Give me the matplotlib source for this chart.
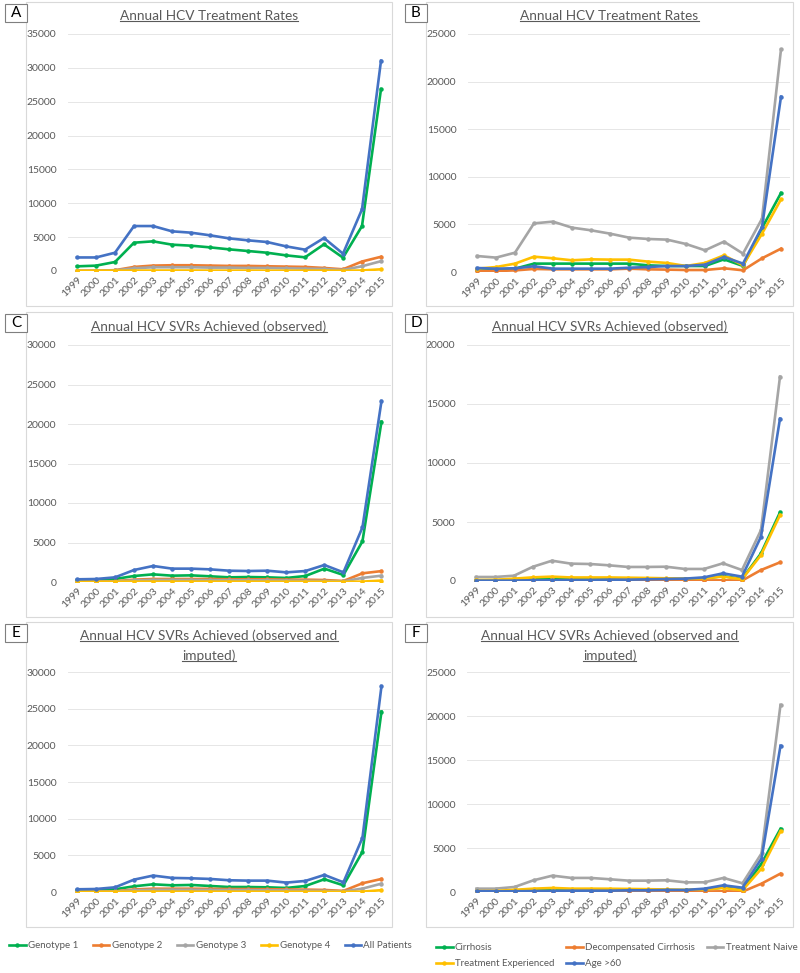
import matplotlib
matplotlib.use("Agg")
import matplotlib.pyplot as plt
from matplotlib.lines import Line2D
from matplotlib.patches import Rectangle
import numpy as np

plt.rcParams['font.family'] = ['Lato', 'DejaVu Sans']

# Years on the x axis
years = list(range(1999, 2016))
year_labels = [str(y) for y in years]

# Panel A - treatment rates by genotype
a_geno1 = [690, 790, 1330, 4180, 4380, 3890, 3740, 3490, 3200, 2950, 2700, 2310, 2020, 3940, 1970, 6640, 26870]
a_geno2 = [40, 50, 120, 600, 800, 850, 850, 800, 750, 750, 700, 650, 600, 450, 250, 1400, 2100]
a_geno3 = [20, 30, 100, 400, 550, 550, 550, 500, 500, 450, 450, 400, 350, 300, 150, 700, 1450]
a_geno4 = [30, 30, 50, 60, 70, 70, 70, 60, 60, 60, 50, 50, 50, 60, 30, 80, 250]
a_all = [2000, 2000, 2700, 6640, 6640, 5860, 5660, 5270, 4820, 4530, 4280, 3640, 3150, 4870, 2560, 9100, 31060]

# Panel B - treatment rates by patient group
b_cirr = [250, 250, 350, 880, 880, 880, 880, 880, 880, 700, 630, 630, 630, 1330, 630, 4620, 8300]
b_decomp = [100, 100, 170, 320, 280, 280, 280, 280, 350, 280, 250, 210, 210, 390, 180, 1440, 2450]
b_naive = [1680, 1510, 2030, 5110, 5290, 4660, 4380, 4030, 3610, 3470, 3400, 2940, 2280, 3190, 1930, 5600, 23390]
b_exper = [350, 520, 880, 1610, 1440, 1230, 1330, 1300, 1300, 1090, 950, 630, 950, 1750, 700, 4030, 7630]
b_age60 = [420, 350, 390, 600, 350, 350, 350, 350, 450, 520, 630, 630, 770, 1580, 880, 4730, 18420]

# Panel C - SVRs observed by genotype
c_geno1 = [210, 250, 380, 760, 970, 800, 840, 720, 590, 630, 590, 510, 760, 1690, 890, 5150, 20300]
c_geno2 = [50, 50, 100, 300, 380, 380, 380, 380, 340, 340, 340, 300, 300, 250, 130, 1100, 1380]
c_geno3 = [30, 30, 60, 200, 260, 260, 260, 230, 220, 220, 200, 180, 150, 130, 70, 520, 800]
c_geno4 = [20, 20, 30, 40, 40, 40, 40, 40, 40, 40, 30, 30, 30, 30, 20, 50, 180]
c_all = [340, 380, 590, 1520, 2030, 1690, 1690, 1600, 1430, 1390, 1430, 1220, 1390, 2150, 1220, 6920, 22910]

# Panel D - SVRs observed by patient group
d_cirr = [60, 60, 80, 180, 200, 200, 200, 200, 200, 180, 170, 170, 200, 420, 170, 2340, 5820]
d_decomp = [20, 20, 20, 40, 40, 40, 40, 40, 40, 40, 30, 30, 40, 60, 30, 930, 1580]
d_naive = [340, 340, 450, 1210, 1720, 1470, 1440, 1330, 1190, 1190, 1210, 1020, 1020, 1500, 930, 4320, 17320]
d_exper = [80, 100, 200, 310, 370, 300, 300, 300, 280, 260, 230, 200, 230, 370, 150, 2200, 5590]
d_age60 = [30, 30, 30, 60, 60, 80, 80, 110, 110, 140, 170, 200, 310, 650, 370, 3760, 13760]

# Panel E - SVRs observed and imputed by genotype
e_geno1 = [230, 230, 370, 780, 1050, 910, 960, 820, 680, 680, 640, 550, 820, 1740, 910, 5480, 24610]
e_geno2 = [50, 50, 100, 350, 450, 450, 450, 430, 400, 400, 380, 350, 330, 280, 150, 1190, 1780]
e_geno3 = [30, 30, 70, 230, 300, 300, 300, 270, 260, 250, 230, 210, 180, 150, 80, 460, 1140]
e_geno4 = [20, 20, 30, 40, 40, 40, 40, 40, 40, 40, 30, 30, 30, 30, 20, 50, 250]
e_all = [370, 410, 640, 1690, 2240, 1920, 1870, 1780, 1600, 1550, 1550, 1280, 1510, 2330, 1320, 7400, 28080]

# Panel F - SVRs observed and imputed by patient group
f_cirr = [80, 80, 100, 220, 250, 250, 250, 250, 240, 220, 200, 200, 250, 530, 230, 3230, 7190]
f_decomp = [30, 30, 30, 50, 50, 50, 50, 50, 50, 50, 40, 40, 50, 80, 40, 950, 2090]
f_naive = [380, 380, 570, 1330, 1860, 1600, 1600, 1450, 1290, 1290, 1330, 1100, 1100, 1600, 990, 4380, 21270]
f_exper = [100, 120, 250, 380, 460, 380, 380, 370, 350, 320, 290, 250, 290, 460, 200, 2660, 6920]
f_age60 = [80, 80, 80, 110, 110, 150, 150, 150, 190, 190, 230, 230, 380, 760, 490, 3800, 16630]

geno_names = ["Genotype 1", "Genotype 2", "Genotype 3", "Genotype 4", "All Patients"]
group_names = ["Cirrhosis", "Decompensated Cirrhosis", "Treatment Naive", "Treatment Experienced", "Age >60"]
colors = ["#00B050", "#ED7D31", "#A5A5A5", "#FFC000", "#4472C4"]

title_rates = ["Annual HCV Treatment Rates"]
title_obs = ["Annual HCV SVRs Achieved (observed)"]
title_imp = ["Annual HCV SVRs Achieved (observed and", "imputed)"]

W, H = 800, 973
TXT = "#595959"

panels = [
    # letter, frame (l, r, t, b), axes (l, r, t, b), ymax, title, title y, series
    ("A", (26, 392, 2, 306), (67.5, 390.5, 34, 271), 35000, title_rates, 16,
     [a_geno1, a_geno2, a_geno3, a_geno4, a_all]),
    ("B", (426, 793, 2, 306), (467.5, 790.5, 34, 272), 25000, title_rates, 16,
     [b_cirr, b_decomp, b_naive, b_exper, b_age60]),
    ("C", (26, 392, 312, 617), (67.5, 391, 345, 582), 30000, title_obs, 327,
     [c_geno1, c_geno2, c_geno3, c_geno4, c_all]),
    ("D", (426, 793, 312, 617), (466.5, 789.5, 345, 581), 20000, title_obs, 327,
     [d_cirr, d_decomp, d_naive, d_exper, d_age60]),
    ("E", (26, 392, 622, 927), (67.5, 391, 672, 892), 30000, title_imp, 636,
     [e_geno1, e_geno2, e_geno3, e_geno4, e_all]),
    ("F", (426, 793, 622, 927), (467, 790, 672, 892), 25000, title_imp, 636,
     [f_cirr, f_decomp, f_naive, f_exper, f_age60]),
]

fig = plt.figure(figsize=(W / 100, H / 100), dpi=100)
fig.patch.set_facecolor("white")

title_texts = []
axes = {}
for letter, frame, box, ymax, title, ty, series in panels:
    fl, fr, ft, fb = frame
    fig.patches.append(Rectangle((fl / W, 1 - fb / H), (fr - fl) / W, (fb - ft) / H,
                                 transform=fig.transFigure, fill=False,
                                 edgecolor="#D9D9D9", lw=0.8, zorder=0))
    # letter box in the top left corner
    fig.patches.append(Rectangle(((fl - 21) / W, 1 - (ft + 20) / H), 22 / W, 18 / H,
                                 transform=fig.transFigure, facecolor="white",
                                 edgecolor="#7F7F7F", lw=0.8, zorder=1))
    fig.text((fl - 10) / W, 1 - (ft + 11) / H, letter, ha="center", va="center",
             fontsize=11, color="black")

    for i, line in enumerate(title):
        t = fig.text((fl + fr) / 2 / W, 1 - (ty + i * 20) / H, line, ha="center",
                     va="center", fontsize=9.8, color=TXT)
        title_texts.append(t)

    l, r, t_, b = box
    ax = fig.add_axes([l / W, 1 - b / H, (r - l) / W, (b - t_) / H])
    for vals, c in zip(series, colors):
        ax.plot(years, vals, color=c, lw=1.9, marker="o", markersize=2.2)
    ax.set_xlim(1998.5, 2015.5)
    ax.set_ylim(0, ymax)
    ax.set_yticks(np.arange(0, ymax + 1, 5000))
    ax.set_yticklabels([str(int(v)) for v in np.arange(0, ymax + 1, 5000)])
    ax.set_xticks(years)
    ax.set_xticklabels(year_labels, rotation=45, ha="right", rotation_mode="anchor")
    ax.tick_params(axis="y", length=0, pad=8, labelsize=7.5, labelcolor=TXT)
    ax.tick_params(axis="x", length=0, pad=3, labelsize=7.5, labelcolor=TXT)
    ax.yaxis.grid(True, color="#E6E6E6", lw=0.7)
    ax.set_axisbelow(True)
    for s in ax.spines.values():
        s.set_visible(False)
    axes[letter] = ax

# underline the titles
fig.canvas.draw()
renderer = fig.canvas.get_renderer()
for t in title_texts:
    bb = t.get_window_extent(renderer)
    fig.lines.append(Line2D([bb.x0 / W, bb.x1 / W], [(bb.y0 + 1) / H, (bb.y0 + 1) / H],
                            transform=fig.transFigure, color=TXT, lw=0.8))

# legends
left_handles = axes["A"].get_lines()
fig.legend(left_handles, geno_names, loc="center left", bbox_to_anchor=(9 / W, 1 - 946 / H),
           ncol=5, frameon=False, fontsize=7, handlelength=1.7, handletextpad=0.25,
           columnspacing=1.5, borderpad=0, borderaxespad=0, labelcolor=TXT)

rh = list(axes["B"].get_lines())
order = [0, 3, 1, 4, 2]
fig.legend([rh[i] for i in order], [group_names[i] for i in order], loc="upper left",
           bbox_to_anchor=(436 / W, 1 - 943 / H), ncol=3, frameon=False, fontsize=7,
           handlelength=1.7, handletextpad=0.25, columnspacing=1.2, labelspacing=0.75,
           borderpad=0, borderaxespad=0, labelcolor=TXT)

fig.savefig("out.png", dpi=100)
